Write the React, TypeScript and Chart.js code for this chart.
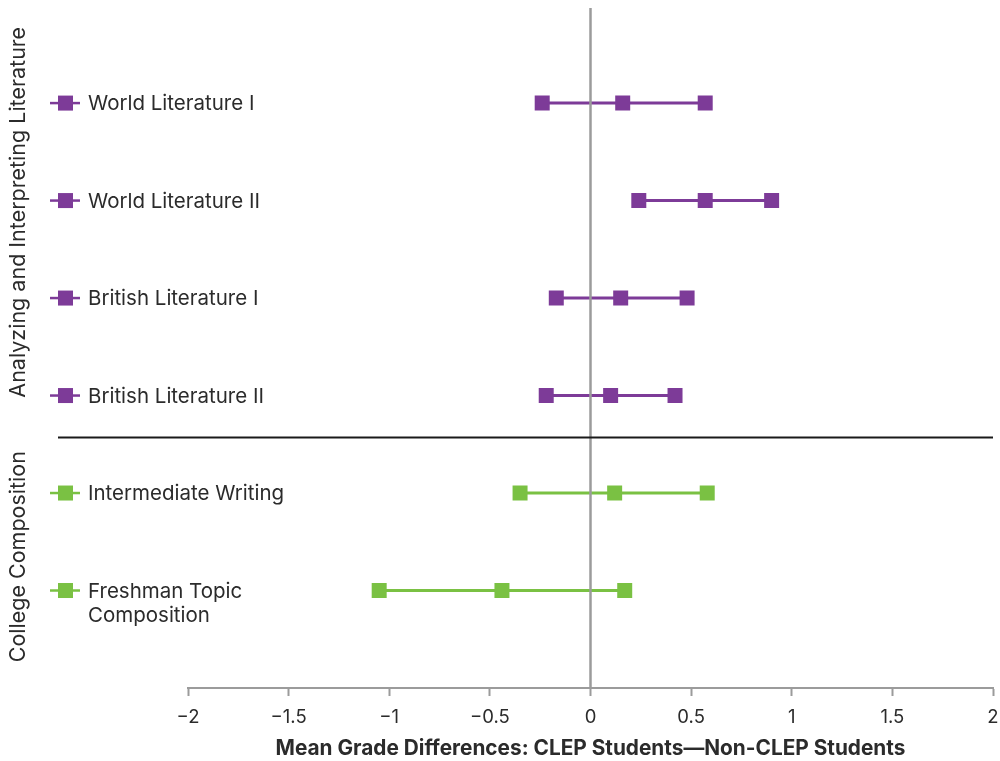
import React, { useEffect, useRef } from "react";
import { Chart, registerables } from "chart.js";

Chart.register(...registerables);

const categories: string[][] = [
  ["World Literature I"],
  ["World Literature II"],
  ["British Literature I"],
  ["British Literature II"],
  ["Intermediate Writing"],
  ["Freshman Topic", "Composition"],
];
const lowValues = [-0.24, 0.24, -0.17, -0.22, -0.35, -1.05];
const meanValues = [0.16, 0.57, 0.15, 0.1, 0.12, -0.44];
const highValues = [0.57, 0.9, 0.48, 0.42, 0.58, 0.17];
const rowGroups = [0, 0, 0, 0, 1, 1];
const groupNames = ["Analyzing and Interpreting Literature", "College Composition"];
const groupColors = ["#7D3B98", "#7AC143"];
const xTickValues = [-2, -1.5, -1, -0.5, 0, 0.5, 1, 1.5, 2];
const xTitle = "Mean Grade Differences: CLEP Students\u2014Non-CLEP Students";

const LABEL_FONT = "Inter, 'Open Sans', sans-serif";
const AXIS_FONT = "Inter, 'Open Sans', sans-serif";

export default function App() {
  const ref = useRef<HTMLCanvasElement | null>(null);

  useEffect(() => {
    const canvas = ref.current!;
    const datasets = categories.map((cat, i) => {
      const color = groupColors[rowGroups[i]];
      return {
        label: cat.join(" "),
        data: [
          { x: lowValues[i], y: i + 1 },
          { x: meanValues[i], y: i + 1 },
          { x: highValues[i], y: i + 1 },
        ],
        showLine: true,
        borderColor: color,
        backgroundColor: color,
        borderWidth: 3,
        pointStyle: "rect",
        pointRadius: 10.6,
        pointBorderWidth: 0,
      };
    });

    const overlay = {
      id: "overlay",
      afterDatasetsDraw(chart: any) {
        const ctx = chart.ctx;
        const xs = chart.scales.x;
        const ys = chart.scales.y;
        const area = chart.chartArea;
        ctx.save();
        // zero line
        const zx = xs.getPixelForValue(0);
        ctx.strokeStyle = "#9B9B9B";
        ctx.lineWidth = 2.5;
        ctx.beginPath();
        ctx.moveTo(zx, 8);
        ctx.lineTo(zx, area.bottom);
        ctx.stroke();
        // separator
        const sepY = ys.getPixelForValue(4.43);
        const sy = Math.round(sepY) + 0.5;
        ctx.strokeStyle = "#1A1A1A";
        ctx.lineWidth = 2;
        ctx.beginPath();
        ctx.moveTo(58, sy);
        ctx.lineTo(area.right, sy);
        ctx.stroke();
        // row labels with legend icons
        categories.forEach((cat, i) => {
          const y = ys.getPixelForValue(i + 1);
          const color = groupColors[rowGroups[i]];
          ctx.strokeStyle = color;
          ctx.lineWidth = 2.5;
          ctx.beginPath();
          ctx.moveTo(50, y);
          ctx.lineTo(80, y);
          ctx.stroke();
          ctx.fillStyle = color;
          ctx.fillRect(58, y - 7.5, 15, 15);
          ctx.fillStyle = "#2B2B2B";
          ctx.font = `20.5px ${LABEL_FONT}`;
          ctx.textAlign = "left";
          ctx.textBaseline = "middle";
          cat.forEach((line, k) => {
            ctx.fillText(line, 88, y + 1 + k * 24);
          });
        });
        // group labels
        const centers = [ys.getPixelForValue(2.12), (sepY + area.bottom) / 2 - 6];
        groupNames.forEach((name, g) => {
          ctx.save();
          ctx.translate(19, centers[g]);
          ctx.rotate(-Math.PI / 2);
          ctx.fillStyle = "#2B2B2B";
          ctx.font = `21.5px ${LABEL_FONT}`;
          ctx.textAlign = "center";
          ctx.textBaseline = "middle";
          ctx.fillText(name, 0, 0);
          ctx.restore();
        });
        ctx.restore();
      },
    };

    const chart = new Chart(canvas, {
      type: "scatter",
      data: { datasets: datasets as any },
      options: {
        animation: false,
        responsive: false,
        maintainAspectRatio: false,
        layout: { autoPadding: false, padding: { left: 188, right: 7, top: 5.6, bottom: 2 } },
        plugins: { legend: { display: false }, tooltip: { enabled: false } },
        scales: {
          y: {
            type: "linear",
            min: 0,
            max: 7,
            reverse: true,
            display: false,
          },
          x: {
            type: "linear",
            min: -2,
            max: 2,
            afterBuildTicks: (axis: any) => {
              axis.ticks = xTickValues.map((v) => ({ value: v }));
            },
            afterFit: (axis: any) => {
              axis.paddingRight = 0;
            },
            grid: {
              drawOnChartArea: false,
              drawTicks: true,
              tickLength: 8,
              tickWidth: 2,
              tickColor: "#9B9B9B",
            },
            border: { display: true, color: "#9B9B9B", width: 2 },
            ticks: {
              color: "#2B2B2B",
              font: { family: AXIS_FONT, size: 18.5 },
              padding: 10,
              maxRotation: 0,
              callback: (v: any) => (Number(v) < 0 ? "\u2212" + Math.abs(Number(v)) : String(v)),
            },
            title: {
              display: true,
              text: xTitle,
              color: "#2B2B2B",
              font: { family: AXIS_FONT, size: 20.8, weight: "bold", lineHeight: 1.0 },
              padding: { top: 0, bottom: 0 },
            },
          },
        },
      },
      plugins: [overlay],
    });
    return () => chart.destroy();
  }, []);

  return (
    <div style={{ position: "fixed", left: 0, top: 0, width: 1000, height: 761, background: "#fff" }}>
      <canvas ref={ref} width={1000} height={761} />
    </div>
  );
}
